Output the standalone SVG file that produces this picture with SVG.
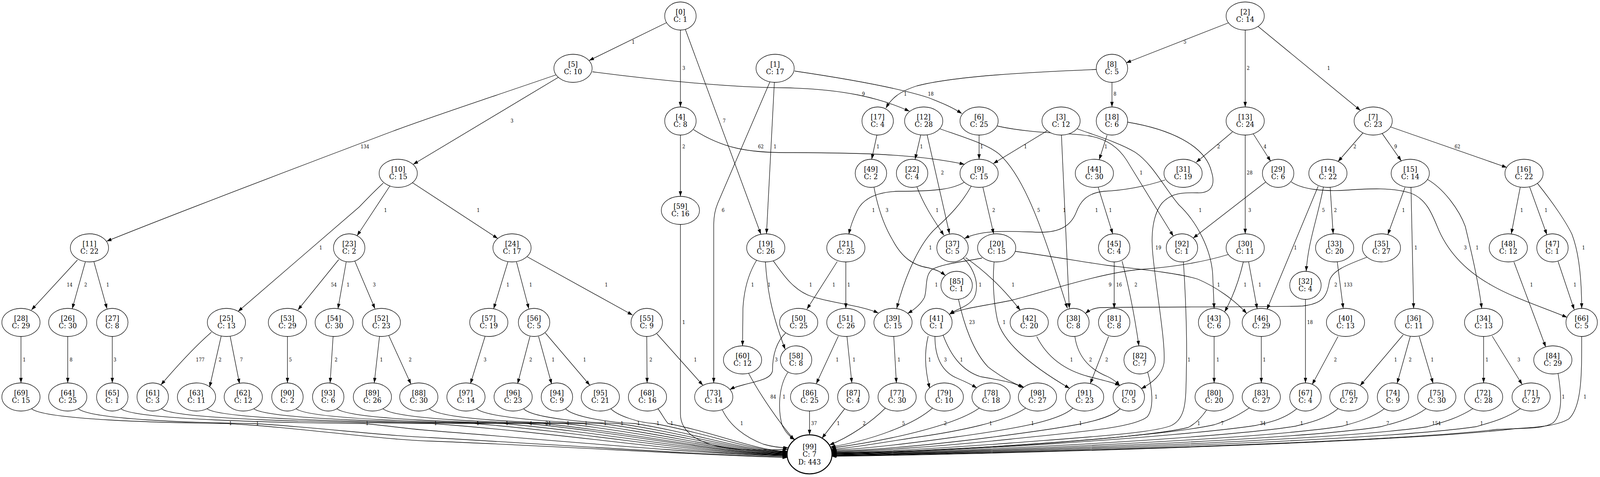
<svg xmlns="http://www.w3.org/2000/svg" width="4275" height="1222" viewBox="0 0 4275 1222">
<style>
.node ellipse{fill:#fff;stroke:#000;stroke-width:1.3}
.node text{font-family:"DejaVu Serif","Liberation Serif",serif;font-size:18px;text-anchor:middle;fill:#000}
.edge path{fill:none;stroke:#000;stroke-width:1.3;marker-end:url(#ah)}
.edge text{font-family:"DejaVu Serif","Liberation Serif",serif;font-size:12px;text-anchor:middle;fill:#000}
</style>
<defs>
<marker id="ah" markerUnits="userSpaceOnUse" markerWidth="13" markerHeight="9" refX="13" refY="4.5" orient="auto"><path d="M0,0 L13,4.5 L0,9 z" fill="#000"/></marker>
</defs>
<rect width="4275" height="1222" fill="#fff"/>
<g id="diagram" transform="scale(0.958129,1)">
<g id="connectors">
<g class="edge"><path d="M1781,58 L1574,155"/><text x="1692" y="112">1</text></g>
<g class="edge"><path d="M1818,77 L1818,274"/><text x="1827" y="179">3</text></g>
<g class="edge"><path d="M1831,75 L2033,600"/><text x="1935" y="314">7</text></g>
<g class="edge"><path d="M1583,184 C1750,205 1960,225 2100,225 C2250,228 2350,250 2430,285"/><text x="2307" y="245">9</text></g>
<g class="edge"><path d="M1485,192 C1300,253 1150,300 1050,336 C950,372 500,535 285,618"/><text x="975" y="380">134</text></g>
<g class="edge"><path d="M1492,198 L1104,421"/><text x="1368" y="314">3</text></g>
<g class="edge"><path d="M2123,182 C2250,200 2400,225 2480,250 C2520,265 2545,275 2570,291"/><text x="2487" y="245">18</text></g>
<g class="edge"><path d="M2069,211 L2048,599"/><text x="2071" y="380">1</text></g>
<g class="edge"><path d="M2057,210 L1918,520 Q1907,545 1907,575 L1907,981"/><text x="1932" y="543">6</text></g>
<g class="edge"><path d="M1853,332 C1930,380 2000,391 2100,391 C2300,391 2450,395 2577,421"/><text x="2033" y="380">62</text></g>
<g class="edge"><path d="M1818,346 L1818,503"/><text x="1827" y="380">2</text></g>
<g class="edge"><path d="M3289,56 L3009,161"/><text x="3166" y="112">5</text></g>
<g class="edge"><path d="M3327,77 L3327,274"/><text x="3335" y="179">2</text></g>
<g class="edge"><path d="M3358,65 L3635,283"/><text x="3550" y="179">1</text></g>
<g class="edge"><path d="M2929,178 C2750,185 2550,195 2450,220 C2400,235 2380,255 2367,277"/><text x="2419" y="245">1</text></g>
<g class="edge"><path d="M2971,211 L2971,274"/><text x="2979" y="245">8</text></g>
<g class="edge"><path d="M2343,346 L2329,408"/><text x="2346" y="380">1</text></g>
<g class="edge"><path d="M2460,346 L2445,408"/><text x="2462" y="380">1</text></g>
<g class="edge"><path d="M2477,345 L2537,599"/><text x="2518" y="447">2</text></g>
<g class="edge"><path d="M2511,330 C2570,350 2640,370 2670,395 C2740,455 2790,600 2852,790"/><text x="2775" y="543">5</text></g>
<g class="edge"><path d="M2616,346 L2616,408"/><text x="2623" y="380">1</text></g>
<g class="edge"><path d="M2665,323 C2760,343 2860,340 2910,348 C2960,356 2990,380 3010,410 L3135,605"/><text x="3049" y="447">1</text></g>
<g class="edge"><path d="M2798,335 L2654,419"/><text x="2740" y="380">1</text></g>
<g class="edge"><path d="M2836,346 L2857,790"/><text x="2844" y="543">1</text></g>
<g class="edge"><path d="M2878,330 C2920,345 2990,365 3033,390 C3080,420 3110,480 3150,525 C3200,570 3235,640 3240,700 L3244,790"/><text x="3207" y="543">1</text></g>
<g class="edge"><path d="M2958,346 L2937,409"/><text x="2955" y="380">1</text></g>
<g class="edge"><path d="M3013,313 C3120,330 3220,370 3237,440 C3250,480 3230,495 3200,494 C3160,493 3130,494 3105,520 C3080,550 3075,600 3080,650 C3090,750 3115,880 3110,930 C3105,960 3080,980 3049,996"/><text x="3095" y="639">19</text></g>
<g class="edge"><path d="M3293,338 L3196,416"/><text x="3256" y="380">2</text></g>
<g class="edge"><path d="M3348,342 L3395,413"/><text x="3380" y="380">4</text></g>
<g class="edge"><path d="M3327,346 L3327,599"/><text x="3339" y="447">28</text><text x="3339" y="543">3</text></g>
<g class="edge"><path d="M3642,340 L3575,414"/><text x="3620" y="380">2</text></g>
<g class="edge"><path d="M3693,342 L3744,412"/><text x="3729" y="380">9</text></g>
<g class="edge"><path d="M3715,325 L4026,429"/><text x="3894" y="380">62</text></g>
<g class="edge"><path d="M2576,467 C2545,485 2500,490 2400,490 C2340,492 2305,510 2290,540 C2280,560 2272,580 2268,600"/><text x="2334" y="543">1</text></g>
<g class="edge"><path d="M2595,477 C2570,520 2540,550 2500,585 C2460,620 2420,700 2396,790"/><text x="2486" y="639">1</text></g>
<g class="edge"><path d="M2626,479 L2655,599"/><text x="2655" y="543">2</text></g>
<g class="edge"><path d="M1042,476 L954,604"/><text x="1030" y="543">1</text></g>
<g class="edge"><path d="M1102,468 L1330,611"/><text x="1278" y="543">1</text></g>
<g class="edge"><path d="M1024,469 C1000,490 985,505 960,530 L636,798"/><text x="857" y="639">1</text></g>
<g class="edge"><path d="M207,666 L84,794"/><text x="186" y="734">14</text></g>
<g class="edge"><path d="M228,671 L193,791"/><text x="229" y="734">2</text></g>
<g class="edge"><path d="M251,671 L286,791"/><text x="288" y="734">1</text></g>
<g class="edge"><path d="M905,665 L796,794"/><text x="892" y="734">54</text></g>
<g class="edge"><path d="M925,671 L903,791"/><text x="930" y="734">1</text></g>
<g class="edge"><path d="M948,669 L1002,791"/><text x="1000" y="734">3</text></g>
<g class="edge"><path d="M1357,671 L1319,791"/><text x="1357" y="734">1</text></g>
<g class="edge"><path d="M1380,671 L1413,791"/><text x="1418" y="734">1</text></g>
<g class="edge"><path d="M1409,658 L1690,807"/><text x="1620" y="734">1</text></g>
<g class="edge"><path d="M2022,666 C2000,700 1988,740 1985,790 L1984,886"/><text x="2011" y="734">1</text></g>
<g class="edge"><path d="M2045,671 C2050,740 2060,800 2098,895"/><text x="2055" y="734">1</text></g>
<g class="edge"><path d="M2066,668 C2090,700 2120,745 2170,760 C2230,778 2300,782 2347,802"/><text x="2166" y="734">1</text></g>
<g class="edge"><path d="M2237,670 L2156,792"/><text x="2228" y="734">1</text></g>
<g class="edge"><path d="M2260,671 L2260,790"/><text x="2268" y="734">1</text></g>
<g class="edge"><path d="M2450,479 C2470,530 2500,570 2522,603"/><text x="2504" y="543">1</text></g>
<g class="edge"><path d="M3113,461 C3060,478 3000,488 2950,490 C2900,495 2885,520 2875,545 C2860,580 2830,595 2780,595 C2720,594 2630,585 2577,611"/><text x="2930" y="543">1</text></g>
<g class="edge"><path d="M2934,479 L2973,599"/><text x="2967" y="543">1</text></g>
<g class="edge"><path d="M2335,479 C2345,530 2360,575 2385,615 C2410,660 2440,680 2480,686 C2500,690 2515,697 2526,706"/><text x="2370" y="543">3</text></g>
<g class="edge"><path d="M2624,661 C2580,670 2520,675 2491,690 C2470,705 2478,740 2470,762 C2460,780 2445,792 2425,803"/><text x="2502" y="734">1</text></g>
<g class="edge"><path d="M2574,661 C2595,680 2610,710 2609,736 C2608,760 2600,770 2585,780 C2570,790 2550,795 2537,805"/><text x="2619" y="734">1</text></g>
<g class="edge"><path d="M2580,660 C2640,700 2690,750 2726,795"/><text x="2707" y="734">1</text></g>
<g class="edge"><path d="M2656,671 C2652,720 2654,770 2665,820 C2680,880 2760,940 2858,995"/><text x="2683" y="830">1</text></g>
<g class="edge"><path d="M2713,644 C2800,655 2900,672 2960,680 C3050,690 3150,700 3200,715 C3250,735 3300,770 3331,803"/><text x="3256" y="734">1</text></g>
<g class="edge"><path d="M3282,652 C3220,670 3150,683 3050,690 C2950,697 2800,745 2700,770 C2620,785 2570,790 2537,805"/><text x="2966" y="734">9</text></g>
<g class="edge"><path d="M3322,671 C3310,720 3295,760 3272,799"/><text x="3327" y="734">1</text></g>
<g class="edge"><path d="M3336,670 L3359,791"/><text x="3366" y="734">1</text></g>
<g class="edge"><path d="M3382,466 L3188,610"/></g>
<g class="edge"><path d="M3450,466 C3480,486 3540,491 3600,487 C3660,483 3720,480 3770,495 C3810,510 3825,545 3840,580 C3865,640 3910,690 3982,729 C4040,762 4130,790 4187,813"/><text x="3915" y="639">3</text></g>
<g class="edge"><path d="M3522,477 L3385,793"/><text x="3461" y="639">1</text></g>
<g class="edge"><path d="M3536,479 C3520,560 3495,620 3490,695"/><text x="3536" y="543">5</text></g>
<g class="edge"><path d="M3554,479 L3562,599"/><text x="3568" y="543">2</text></g>
<g class="edge"><path d="M3754,480 L3708,601"/><text x="3750" y="543">1</text></g>
<g class="edge"><path d="M3770,480 L3777,790"/><text x="3783" y="639">1</text></g>
<g class="edge"><path d="M3813,459 C3860,485 3900,540 3915,580 C3930,640 3950,720 3959,790"/><text x="3947" y="639">1</text></g>
<g class="edge"><path d="M4062,479 L4038,599"/><text x="4066" y="543">1</text></g>
<g class="edge"><path d="M4087,479 L4133,601"/><text x="4131" y="543">1</text></g>
<g class="edge"><path d="M4108,470 C4150,520 4185,570 4200,600 C4220,650 4226,720 4226,790"/><text x="4231" y="639">1</text></g>
<g class="edge"><path d="M4163,670 L4206,793"/><text x="4208" y="734">1</text></g>
<g class="edge"><path d="M4045,671 L4130,889"/><text x="4092" y="734">1</text></g>
<g class="edge"><path d="M3573,671 L3589,790"/><text x="3602" y="734">133</text></g>
<g class="edge"><path d="M3652,659 C3610,675 3560,690 3552,720 C3545,760 3535,778 3480,784 C3400,787 3000,786 2940,788 C2920,790 2910,795 2900,803"/><text x="3569" y="734">2</text></g>
<g class="edge"><path d="M2977,671 L2977,790"/><text x="2990" y="734">16</text></g>
<g class="edge"><path d="M2998,669 C3015,730 3030,800 3043,886"/><text x="3035" y="734">2</text></g>
<g class="edge"><path d="M2962,862 L2913,983"/><text x="2957" y="926">2</text></g>
<g class="edge"><path d="M2872,862 C2880,920 2920,950 2960,965 C2975,972 2985,980 2992,988"/><text x="2914" y="926">2</text></g>
<g class="edge"><path d="M2770,862 C2800,920 2850,950 2910,965 C2950,975 2975,980 2992,988"/><text x="2863" y="926">1</text></g>
<g class="edge"><path d="M2388,862 L2395,981"/><text x="2402" y="926">1</text></g>
<g class="edge"><path d="M2480,861 C2470,900 2470,940 2484,995"/><text x="2484" y="926">1</text></g>
<g class="edge"><path d="M2498,862 C2498,920 2520,955 2560,970 C2580,978 2595,985 2610,994"/><text x="2526" y="926">3</text></g>
<g class="edge"><path d="M2520,859 C2540,910 2570,950 2620,965 C2680,975 2710,980 2733,993"/><text x="2569" y="926">1</text></g>
<g class="edge"><path d="M2561,767 C2575,830 2600,900 2640,940 C2680,970 2715,985 2737,993"/><text x="2597" y="830">23</text></g>
<g class="edge"><path d="M2240,861 L2181,983"/><text x="2237" y="926">1</text></g>
<g class="edge"><path d="M2263,862 L2276,981"/><text x="2282" y="926">1</text></g>
<g class="edge"><path d="M2099,853 C2070,880 2064,920 2064,950 C2060,970 2030,975 1990,985 C1970,990 1960,993 1950,998"/><text x="2074" y="926">3</text></g>
<g class="edge"><path d="M565,851 C530,880 480,930 430,986"/><text x="535" y="926">177</text></g>
<g class="edge"><path d="M591,861 L560,992"/><text x="588" y="926">2</text></g>
<g class="edge"><path d="M615,862 L640,983"/><text x="645" y="926">7</text></g>
<g class="edge"><path d="M56,862 L56,981"/><text x="65" y="926">1</text></g>
<g class="edge"><path d="M181,862 L181,981"/><text x="190" y="926">8</text></g>
<g class="edge"><path d="M300,862 L300,981"/><text x="307" y="926">3</text></g>
<g class="edge"><path d="M768,862 L768,981"/><text x="776" y="926">5</text></g>
<g class="edge"><path d="M890,862 L882,981"/><text x="898" y="926">2</text></g>
<g class="edge"><path d="M1014,862 L1000,981"/><text x="1019" y="926">1</text></g>
<g class="edge"><path d="M1038,858 L1098,984"/><text x="1096" y="926">2</text></g>
<g class="edge"><path d="M1296,862 L1257,983"/><text x="1296" y="926">3</text></g>
<g class="edge"><path d="M1416,862 L1383,983"/><text x="1418" y="926">2</text></g>
<g class="edge"><path d="M1439,862 L1474,984"/><text x="1478" y="926">1</text></g>
<g class="edge"><path d="M1457,853 L1576,987"/><text x="1562" y="926">1</text></g>
<g class="edge"><path d="M1728,862 L1729,981"/><text x="1739" y="926">2</text></g>
<g class="edge"><path d="M1755,855 L1878,987"/><text x="1858" y="926">1</text></g>
<g class="edge"><path d="M3488,767 L3488,981"/><text x="3500" y="830">18</text></g>
<g class="edge"><path d="M3575,862 L3506,985"/><text x="3568" y="926">2</text></g>
<g class="edge"><path d="M3244,862 L3244,981"/><text x="3254" y="926">1</text></g>
<g class="edge"><path d="M3370,862 L3370,981"/><text x="3378" y="926">1</text></g>
<g class="edge"><path d="M3749,858 L3634,988"/><text x="3729" y="926">1</text></g>
<g class="edge"><path d="M3768,862 L3733,982"/><text x="3768" y="926">2</text></g>
<g class="edge"><path d="M3792,862 L3829,982"/><text x="3827" y="926">1</text></g>
<g class="edge"><path d="M3964,862 L3964,981"/><text x="3973" y="926">1</text></g>
<g class="edge"><path d="M3987,861 L4067,985"/><text x="4058" y="926">3</text></g>
<g class="edge"><path d="M1818,575 L1818,1060 C1818,1110 1870,1140 1960,1150 C2020,1156 2070,1151 2105,1151"/><text x="1827" y="830">1</text></g>
<g class="edge"><path d="M1930,1050 C1950,1090 1990,1120 2040,1138 C2065,1145 2085,1147 2106,1147"/><text x="1982" y="1089">1</text></g>
<g class="edge"><path d="M2000,956 C2030,1010 2080,1080 2122,1127"/><text x="2066" y="1021">84</text></g>
<g class="edge"><path d="M2105,954 C2080,990 2078,1050 2090,1090 C2100,1110 2112,1120 2124,1126"/><text x="2095" y="1021">1</text></g>
<g class="edge"><path d="M2163,1053 L2163,1114"/><text x="2175" y="1089">37</text></g>
<g class="edge"><path d="M2257,1047 L2196,1123"/><text x="2240" y="1089">1</text></g>
<g class="edge"><path d="M2366,1045 C2330,1080 2270,1120 2216,1140"/><text x="2309" y="1089">2</text></g>
<g class="edge"><path d="M2492,1045 C2440,1090 2320,1130 2219,1145"/><text x="2414" y="1089">5</text></g>
<g class="edge"><path d="M2617,1045 C2560,1085 2400,1125 2220,1148"/><text x="2526" y="1089">2</text></g>
<g class="edge"><path d="M2741,1045 C2690,1080 2560,1105 2450,1120 C2350,1135 2270,1148 2221,1151"/><text x="2647" y="1089">1</text></g>
<g class="edge"><path d="M2867,1045 C2830,1080 2700,1100 2550,1120 C2400,1140 2280,1152 2222,1153"/><text x="2759" y="1089">1</text></g>
<g class="edge"><path d="M2993,1047 C2960,1080 2850,1095 2650,1120 C2450,1145 2290,1155 2222,1155"/><text x="2887" y="1089">1</text></g>
<g class="edge"><path d="M3066,952 C3078,990 3085,1045 3065,1068 C3030,1095 2900,1105 2700,1125 C2500,1145 2300,1157 2223,1157"/><text x="3089" y="1021">1</text></g>
<g class="edge"><path d="M3162,671 C3168,760 3172,870 3170,940 C3168,1020 3172,1070 3130,1090 C3080,1110 2900,1120 2700,1135 C2500,1150 2300,1159 2223,1159"/><text x="3177" y="926">1</text></g>
<g class="edge"><path d="M3224,1050 C3210,1070 3195,1085 3175,1095 C3050,1125 2500,1158 2223,1160"/><text x="3203" y="1089">1</text></g>
<g class="edge"><path d="M3338,1045 C3300,1070 3270,1080 3245,1088 C3100,1120 2500,1159 2223,1161"/><text x="3266" y="1089">7</text></g>
<g class="edge"><path d="M3465,1047 C3430,1075 3390,1082 3355,1090 C3150,1120 2500,1160 2223,1162"/><text x="3374" y="1089">34</text></g>
<g class="edge"><path d="M3575,1047 C3540,1075 3490,1085 3460,1092 C3250,1125 2500,1161 2223,1163"/><text x="3478" y="1089">1</text></g>
<g class="edge"><path d="M3699,1047 C3660,1075 3610,1085 3585,1092 C3350,1128 2500,1162 2223,1164"/><text x="3599" y="1089">1</text></g>
<g class="edge"><path d="M3810,1047 C3770,1075 3720,1085 3690,1093 C3450,1130 2500,1163 2223,1165"/><text x="3708" y="1089">7</text></g>
<g class="edge"><path d="M3935,1047 C3890,1075 3840,1085 3815,1093 C3550,1132 2500,1164 2223,1166"/><text x="3838" y="1089">154</text></g>
<g class="edge"><path d="M4062,1047 C4020,1075 3970,1085 3945,1093 C3650,1134 2500,1165 2223,1167"/><text x="3959" y="1089">1</text></g>
<g class="edge"><path d="M4163,957 C4172,1010 4176,1060 4150,1083 C4120,1100 4080,1096 4000,1100 C3700,1136 2500,1166 2222,1168"/><text x="4177" y="1021">1</text></g>
<g class="edge"><path d="M4226,862 C4226,950 4228,1040 4192,1073 C4160,1092 4100,1095 4050,1098 C3700,1138 2500,1167 2222,1169"/><text x="4235" y="1021">1</text></g>
<g class="edge"><path d="M84,1047 C119,1075 423,1083 606,1085 C800,1095 1000,1125 1150,1130 C1500,1143 1900,1168 2104,1172"/><text x="616" y="1089">1</text></g>
<g class="edge"><path d="M209,1047 C244,1075 514,1083 678,1085 C850,1095 1030,1117 1150,1121 C1500,1140 1900,1167 2104,1170"/><text x="688" y="1089">1</text></g>
<g class="edge"><path d="M323,1047 C358,1075 744,1083 971,1085 C1050,1092 1100,1100 1150,1103 C1500,1130 1900,1165 2104,1168"/><text x="981" y="1089">1</text></g>
<g class="edge"><path d="M431,1047 C466,1075 901,1083 1154,1085 C1534,1112 1867,1167 2104,1167"/><text x="1164" y="1089">1</text></g>
<g class="edge"><path d="M553,1047 C588,1075 1017,1083 1267,1085 C1602,1112 1895,1166 2104,1166"/><text x="1277" y="1089">1</text></g>
<g class="edge"><path d="M678,1047 C713,1075 1112,1083 1345,1085 C1649,1112 1914,1165 2104,1165"/><text x="1355" y="1089">1</text></g>
<g class="edge"><path d="M791,1047 C826,1075 1192,1083 1408,1085 C1686,1111 1930,1164 2104,1164"/><text x="1418" y="1089">4</text></g>
<g class="edge"><path d="M900,1047 C935,1075 1258,1083 1451,1085 C1712,1111 1941,1163 2104,1163"/><text x="1465" y="1089">21</text></g>
<g class="edge"><path d="M1023,1047 C1058,1075 1338,1083 1508,1085 C1746,1111 1955,1162 2104,1162"/><text x="1518" y="1089">1</text></g>
<g class="edge"><path d="M1147,1047 C1182,1075 1413,1083 1556,1085 C1775,1110 1967,1161 2104,1161"/><text x="1566" y="1089">1</text></g>
<g class="edge"><path d="M1273,1047 C1300,1070 1490,1083 1607,1085 C1806,1110 1980,1160 2104,1160"/><text x="1617" y="1089">1</text></g>
<g class="edge"><path d="M1399,1047 C1420,1070 1563,1083 1652,1085 C1833,1110 1991,1159 2104,1159"/><text x="1662" y="1089">1</text></g>
<g class="edge"><path d="M1511,1047 C1530,1068 1631,1083 1696,1085 C1859,1110 2002,1158 2104,1158"/><text x="1706" y="1089">1</text></g>
<g class="edge"><path d="M1632,1047 C1650,1065 1707,1083 1748,1085 C1890,1110 2015,1157 2104,1157"/><text x="1758" y="1089">1</text></g>
<g class="edge"><path d="M1758,1047 C1768,1060 1778,1078 1785,1085 C1913,1109 2024,1156 2104,1156"/><text x="1795" y="1089">1</text></g>
</g>
<g id="nodes">
<g id="n0" class="node"><ellipse cx="1818" cy="41" rx="42" ry="36"/><text x="1818" y="37">[0]</text><text x="1818" y="56.5">C: 1</text></g>
<g id="n2" class="node"><ellipse cx="3327" cy="41" rx="51" ry="36"/><text x="3327" y="37">[2]</text><text x="3327" y="56.5">C: 14</text></g>
<g id="n5" class="node"><ellipse cx="1531" cy="175" rx="51" ry="36"/><text x="1531" y="171">[5]</text><text x="1531" y="190.5">C: 10</text></g>
<g id="n1" class="node"><ellipse cx="2071" cy="175" rx="51" ry="36"/><text x="2071" y="171">[1]</text><text x="2071" y="190.5">C: 17</text></g>
<g id="n8" class="node"><ellipse cx="2971" cy="175" rx="42" ry="36"/><text x="2971" y="171">[8]</text><text x="2971" y="190.5">C: 5</text></g>
<g id="n4" class="node"><ellipse cx="1818" cy="310" rx="42" ry="36"/><text x="1818" y="306">[4]</text><text x="1818" y="325.5">C: 8</text></g>
<g id="n17" class="node"><ellipse cx="2345" cy="310" rx="42" ry="36"/><text x="2345" y="306">[17]</text><text x="2345" y="325.5">C: 4</text></g>
<g id="n12" class="node"><ellipse cx="2468" cy="310" rx="51" ry="36"/><text x="2468" y="306">[12]</text><text x="2468" y="325.5">C: 28</text></g>
<g id="n6" class="node"><ellipse cx="2616" cy="310" rx="51" ry="36"/><text x="2616" y="306">[6]</text><text x="2616" y="325.5">C: 25</text></g>
<g id="n3" class="node"><ellipse cx="2835" cy="310" rx="51" ry="36"/><text x="2835" y="306">[3]</text><text x="2835" y="325.5">C: 12</text></g>
<g id="n18" class="node"><ellipse cx="2971" cy="310" rx="42" ry="36"/><text x="2971" y="306">[18]</text><text x="2971" y="325.5">C: 6</text></g>
<g id="n13" class="node"><ellipse cx="3327" cy="310" rx="51" ry="36"/><text x="3327" y="306">[13]</text><text x="3327" y="325.5">C: 24</text></g>
<g id="n7" class="node"><ellipse cx="3669" cy="310" rx="51" ry="36"/><text x="3669" y="306">[7]</text><text x="3669" y="325.5">C: 23</text></g>
<g id="n10" class="node"><ellipse cx="1064" cy="444" rx="51" ry="36"/><text x="1064" y="440">[10]</text><text x="1064" y="459.5">C: 15</text></g>
<g id="n49" class="node"><ellipse cx="2327" cy="444" rx="42" ry="36"/><text x="2327" y="440">[49]</text><text x="2327" y="459.5">C: 2</text></g>
<g id="n22" class="node"><ellipse cx="2437" cy="444" rx="42" ry="36"/><text x="2437" y="440">[22]</text><text x="2437" y="459.5">C: 4</text></g>
<g id="n9" class="node"><ellipse cx="2616" cy="444" rx="51" ry="36"/><text x="2616" y="440">[9]</text><text x="2616" y="459.5">C: 15</text></g>
<g id="n44" class="node"><ellipse cx="2924" cy="444" rx="51" ry="36"/><text x="2924" y="440">[44]</text><text x="2924" y="459.5">C: 30</text></g>
<g id="n31" class="node"><ellipse cx="3161" cy="444" rx="51" ry="36"/><text x="3161" y="440">[31]</text><text x="3161" y="459.5">C: 19</text></g>
<g id="n29" class="node"><ellipse cx="3415" cy="444" rx="42" ry="36"/><text x="3415" y="440">[29]</text><text x="3415" y="459.5">C: 6</text></g>
<g id="n14" class="node"><ellipse cx="3548" cy="444" rx="51" ry="36"/><text x="3548" y="440">[14]</text><text x="3548" y="459.5">C: 22</text></g>
<g id="n15" class="node"><ellipse cx="3768" cy="444" rx="51" ry="36"/><text x="3768" y="440">[15]</text><text x="3768" y="459.5">C: 14</text></g>
<g id="n16" class="node"><ellipse cx="4072" cy="444" rx="51" ry="36"/><text x="4072" y="440">[16]</text><text x="4072" y="459.5">C: 22</text></g>
<g id="n59" class="node"><ellipse cx="1818" cy="539" rx="51" ry="36"/><text x="1818" y="535">[59]</text><text x="1818" y="554.5">C: 16</text></g>
<g id="n11" class="node"><ellipse cx="239" cy="635" rx="51" ry="36"/><text x="239" y="631">[11]</text><text x="239" y="650.5">C: 22</text></g>
<g id="n23" class="node"><ellipse cx="933" cy="635" rx="42" ry="36"/><text x="933" y="631">[23]</text><text x="933" y="650.5">C: 2</text></g>
<g id="n24" class="node"><ellipse cx="1368" cy="635" rx="51" ry="36"/><text x="1368" y="631">[24]</text><text x="1368" y="650.5">C: 17</text></g>
<g id="n19" class="node"><ellipse cx="2046" cy="635" rx="51" ry="36"/><text x="2046" y="631">[19]</text><text x="2046" y="650.5">C: 26</text></g>
<g id="n21" class="node"><ellipse cx="2260" cy="635" rx="51" ry="36"/><text x="2260" y="631">[21]</text><text x="2260" y="650.5">C: 25</text></g>
<g id="n37" class="node"><ellipse cx="2545" cy="635" rx="42" ry="36"/><text x="2545" y="631">[37]</text><text x="2545" y="650.5">C: 5</text></g>
<g id="n20" class="node"><ellipse cx="2663" cy="635" rx="51" ry="36"/><text x="2663" y="631">[20]</text><text x="2663" y="650.5">C: 15</text></g>
<g id="n45" class="node"><ellipse cx="2977" cy="635" rx="42" ry="36"/><text x="2977" y="631">[45]</text><text x="2977" y="650.5">C: 4</text></g>
<g id="n92" class="node"><ellipse cx="3158" cy="635" rx="42" ry="36"/><text x="3158" y="631">[92]</text><text x="3158" y="650.5">C: 1</text></g>
<g id="n30" class="node"><ellipse cx="3327" cy="635" rx="51" ry="36"/><text x="3327" y="631">[30]</text><text x="3327" y="650.5">C: 11</text></g>
<g id="n33" class="node"><ellipse cx="3566" cy="635" rx="51" ry="36"/><text x="3566" y="631">[33]</text><text x="3566" y="650.5">C: 20</text></g>
<g id="n35" class="node"><ellipse cx="3691" cy="635" rx="51" ry="36"/><text x="3691" y="631">[35]</text><text x="3691" y="650.5">C: 27</text></g>
<g id="n48" class="node"><ellipse cx="4030" cy="635" rx="51" ry="36"/><text x="4030" y="631">[48]</text><text x="4030" y="650.5">C: 12</text></g>
<g id="n47" class="node"><ellipse cx="4148" cy="635" rx="42" ry="36"/><text x="4148" y="631">[47]</text><text x="4148" y="650.5">C: 1</text></g>
<g id="n85" class="node"><ellipse cx="2556" cy="731" rx="42" ry="36"/><text x="2556" y="727">[85]</text><text x="2556" y="746.5">C: 1</text></g>
<g id="n32" class="node"><ellipse cx="3488" cy="731" rx="42" ry="36"/><text x="3488" y="727">[32]</text><text x="3488" y="746.5">C: 4</text></g>
<g id="n28" class="node"><ellipse cx="56" cy="826" rx="51" ry="36"/><text x="56" y="822">[28]</text><text x="56" y="841.5">C: 29</text></g>
<g id="n26" class="node"><ellipse cx="181" cy="826" rx="51" ry="36"/><text x="181" y="822">[26]</text><text x="181" y="841.5">C: 30</text></g>
<g id="n27" class="node"><ellipse cx="300" cy="826" rx="42" ry="36"/><text x="300" y="822">[27]</text><text x="300" y="841.5">C: 8</text></g>
<g id="n25" class="node"><ellipse cx="605" cy="826" rx="51" ry="36"/><text x="605" y="822">[25]</text><text x="605" y="841.5">C: 13</text></g>
<g id="n53" class="node"><ellipse cx="768" cy="826" rx="51" ry="36"/><text x="768" y="822">[53]</text><text x="768" y="841.5">C: 29</text></g>
<g id="n54" class="node"><ellipse cx="893" cy="826" rx="51" ry="36"/><text x="893" y="822">[54]</text><text x="893" y="841.5">C: 30</text></g>
<g id="n52" class="node"><ellipse cx="1019" cy="826" rx="51" ry="36"/><text x="1019" y="822">[52]</text><text x="1019" y="841.5">C: 23</text></g>
<g id="n57" class="node"><ellipse cx="1306" cy="826" rx="51" ry="36"/><text x="1306" y="822">[57]</text><text x="1306" y="841.5">C: 19</text></g>
<g id="n56" class="node"><ellipse cx="1427" cy="826" rx="42" ry="36"/><text x="1427" y="822">[56]</text><text x="1427" y="841.5">C: 5</text></g>
<g id="n55" class="node"><ellipse cx="1728" cy="826" rx="42" ry="36"/><text x="1728" y="822">[55]</text><text x="1728" y="841.5">C: 9</text></g>
<g id="n50" class="node"><ellipse cx="2134" cy="826" rx="51" ry="36"/><text x="2134" y="822">[50]</text><text x="2134" y="841.5">C: 25</text></g>
<g id="n51" class="node"><ellipse cx="2260" cy="826" rx="51" ry="36"/><text x="2260" y="822">[51]</text><text x="2260" y="841.5">C: 26</text></g>
<g id="n39" class="node"><ellipse cx="2386" cy="826" rx="51" ry="36"/><text x="2386" y="822">[39]</text><text x="2386" y="841.5">C: 15</text></g>
<g id="n41" class="node"><ellipse cx="2502" cy="826" rx="42" ry="36"/><text x="2502" y="822">[41]</text><text x="2502" y="841.5">C: 1</text></g>
<g id="n42" class="node"><ellipse cx="2750" cy="826" rx="51" ry="36"/><text x="2750" y="822">[42]</text><text x="2750" y="841.5">C: 20</text></g>
<g id="n38" class="node"><ellipse cx="2868" cy="826" rx="42" ry="36"/><text x="2868" y="822">[38]</text><text x="2868" y="841.5">C: 8</text></g>
<g id="n81" class="node"><ellipse cx="2977" cy="826" rx="42" ry="36"/><text x="2977" y="822">[81]</text><text x="2977" y="841.5">C: 8</text></g>
<g id="n43" class="node"><ellipse cx="3244" cy="826" rx="42" ry="36"/><text x="3244" y="822">[43]</text><text x="3244" y="841.5">C: 6</text></g>
<g id="n46" class="node"><ellipse cx="3370" cy="826" rx="51" ry="36"/><text x="3370" y="822">[46]</text><text x="3370" y="841.5">C: 29</text></g>
<g id="n40" class="node"><ellipse cx="3595" cy="826" rx="51" ry="36"/><text x="3595" y="822">[40]</text><text x="3595" y="841.5">C: 13</text></g>
<g id="n36" class="node"><ellipse cx="3778" cy="826" rx="51" ry="36"/><text x="3778" y="822">[36]</text><text x="3778" y="841.5">C: 11</text></g>
<g id="n34" class="node"><ellipse cx="3964" cy="826" rx="51" ry="36"/><text x="3964" y="822">[34]</text><text x="3964" y="841.5">C: 13</text></g>
<g id="n66" class="node"><ellipse cx="4226" cy="826" rx="42" ry="36"/><text x="4226" y="822">[66]</text><text x="4226" y="841.5">C: 5</text></g>
<g id="n60" class="node"><ellipse cx="1984" cy="922" rx="51" ry="36"/><text x="1984" y="918">[60]</text><text x="1984" y="937.5">C: 12</text></g>
<g id="n58" class="node"><ellipse cx="2127" cy="922" rx="42" ry="36"/><text x="2127" y="918">[58]</text><text x="2127" y="937.5">C: 8</text></g>
<g id="n82" class="node"><ellipse cx="3045" cy="922" rx="42" ry="36"/><text x="3045" y="918">[82]</text><text x="3045" y="937.5">C: 7</text></g>
<g id="n84" class="node"><ellipse cx="4149" cy="922" rx="51" ry="36"/><text x="4149" y="918">[84]</text><text x="4149" y="937.5">C: 29</text></g>
<g id="n69" class="node"><ellipse cx="56" cy="1017" rx="51" ry="36"/><text x="56" y="1013">[69]</text><text x="56" y="1032.5">C: 15</text></g>
<g id="n64" class="node"><ellipse cx="181" cy="1017" rx="51" ry="36"/><text x="181" y="1013">[64]</text><text x="181" y="1032.5">C: 25</text></g>
<g id="n65" class="node"><ellipse cx="300" cy="1017" rx="42" ry="36"/><text x="300" y="1013">[65]</text><text x="300" y="1032.5">C: 1</text></g>
<g id="n61" class="node"><ellipse cx="408" cy="1017" rx="42" ry="36"/><text x="408" y="1013">[61]</text><text x="408" y="1032.5">C: 3</text></g>
<g id="n63" class="node"><ellipse cx="525" cy="1017" rx="51" ry="36"/><text x="525" y="1013">[63]</text><text x="525" y="1032.5">C: 11</text></g>
<g id="n62" class="node"><ellipse cx="650" cy="1017" rx="51" ry="36"/><text x="650" y="1013">[62]</text><text x="650" y="1032.5">C: 12</text></g>
<g id="n90" class="node"><ellipse cx="768" cy="1017" rx="42" ry="36"/><text x="768" y="1013">[90]</text><text x="768" y="1032.5">C: 2</text></g>
<g id="n93" class="node"><ellipse cx="877" cy="1017" rx="42" ry="36"/><text x="877" y="1013">[93]</text><text x="877" y="1032.5">C: 6</text></g>
<g id="n89" class="node"><ellipse cx="995" cy="1017" rx="51" ry="36"/><text x="995" y="1013">[89]</text><text x="995" y="1032.5">C: 26</text></g>
<g id="n88" class="node"><ellipse cx="1119" cy="1017" rx="51" ry="36"/><text x="1119" y="1013">[88]</text><text x="1119" y="1032.5">C: 30</text></g>
<g id="n97" class="node"><ellipse cx="1245" cy="1017" rx="51" ry="36"/><text x="1245" y="1013">[97]</text><text x="1245" y="1032.5">C: 14</text></g>
<g id="n96" class="node"><ellipse cx="1371" cy="1017" rx="51" ry="36"/><text x="1371" y="1013">[96]</text><text x="1371" y="1032.5">C: 23</text></g>
<g id="n94" class="node"><ellipse cx="1488" cy="1017" rx="42" ry="36"/><text x="1488" y="1013">[94]</text><text x="1488" y="1032.5">C: 9</text></g>
<g id="n95" class="node"><ellipse cx="1604" cy="1017" rx="51" ry="36"/><text x="1604" y="1013">[95]</text><text x="1604" y="1032.5">C: 21</text></g>
<g id="n68" class="node"><ellipse cx="1730" cy="1017" rx="51" ry="36"/><text x="1730" y="1013">[68]</text><text x="1730" y="1032.5">C: 16</text></g>
<g id="n73" class="node"><ellipse cx="1907" cy="1017" rx="51" ry="36"/><text x="1907" y="1013">[73]</text><text x="1907" y="1032.5">C: 14</text></g>
<g id="n86" class="node"><ellipse cx="2163" cy="1017" rx="51" ry="36"/><text x="2163" y="1013">[86]</text><text x="2163" y="1032.5">C: 25</text></g>
<g id="n87" class="node"><ellipse cx="2280" cy="1017" rx="42" ry="36"/><text x="2280" y="1013">[87]</text><text x="2280" y="1032.5">C: 4</text></g>
<g id="n77" class="node"><ellipse cx="2397" cy="1017" rx="51" ry="36"/><text x="2397" y="1013">[77]</text><text x="2397" y="1032.5">C: 30</text></g>
<g id="n79" class="node"><ellipse cx="2523" cy="1017" rx="51" ry="36"/><text x="2523" y="1013">[79]</text><text x="2523" y="1032.5">C: 10</text></g>
<g id="n78" class="node"><ellipse cx="2648" cy="1017" rx="51" ry="36"/><text x="2648" y="1013">[78]</text><text x="2648" y="1032.5">C: 18</text></g>
<g id="n98" class="node"><ellipse cx="2772" cy="1017" rx="51" ry="36"/><text x="2772" y="1013">[98]</text><text x="2772" y="1032.5">C: 27</text></g>
<g id="n91" class="node"><ellipse cx="2898" cy="1017" rx="51" ry="36"/><text x="2898" y="1013">[91]</text><text x="2898" y="1032.5">C: 23</text></g>
<g id="n70" class="node"><ellipse cx="3016" cy="1017" rx="42" ry="36"/><text x="3016" y="1013">[70]</text><text x="3016" y="1032.5">C: 5</text></g>
<g id="n80" class="node"><ellipse cx="3244" cy="1017" rx="51" ry="36"/><text x="3244" y="1013">[80]</text><text x="3244" y="1032.5">C: 20</text></g>
<g id="n83" class="node"><ellipse cx="3370" cy="1017" rx="51" ry="36"/><text x="3370" y="1013">[83]</text><text x="3370" y="1032.5">C: 27</text></g>
<g id="n67" class="node"><ellipse cx="3488" cy="1017" rx="42" ry="36"/><text x="3488" y="1013">[67]</text><text x="3488" y="1032.5">C: 4</text></g>
<g id="n76" class="node"><ellipse cx="3604" cy="1017" rx="51" ry="36"/><text x="3604" y="1013">[76]</text><text x="3604" y="1032.5">C: 27</text></g>
<g id="n74" class="node"><ellipse cx="3722" cy="1017" rx="42" ry="36"/><text x="3722" y="1013">[74]</text><text x="3722" y="1032.5">C: 9</text></g>
<g id="n75" class="node"><ellipse cx="3839" cy="1017" rx="51" ry="36"/><text x="3839" y="1013">[75]</text><text x="3839" y="1032.5">C: 30</text></g>
<g id="n72" class="node"><ellipse cx="3964" cy="1017" rx="51" ry="36"/><text x="3964" y="1013">[72]</text><text x="3964" y="1032.5">C: 28</text></g>
<g id="n71" class="node"><ellipse cx="4091" cy="1017" rx="51" ry="36"/><text x="4091" y="1013">[71]</text><text x="4091" y="1032.5">C: 27</text></g>
<g id="n99" class="node"><ellipse cx="2163" cy="1164" rx="60" ry="50" style="stroke-width:2.6"/><text x="2163" y="1151">[99]</text><text x="2163" y="1170.5">C: 7</text><text x="2163" y="1190">D: 443</text></g>
</g>
</g>
</svg>
